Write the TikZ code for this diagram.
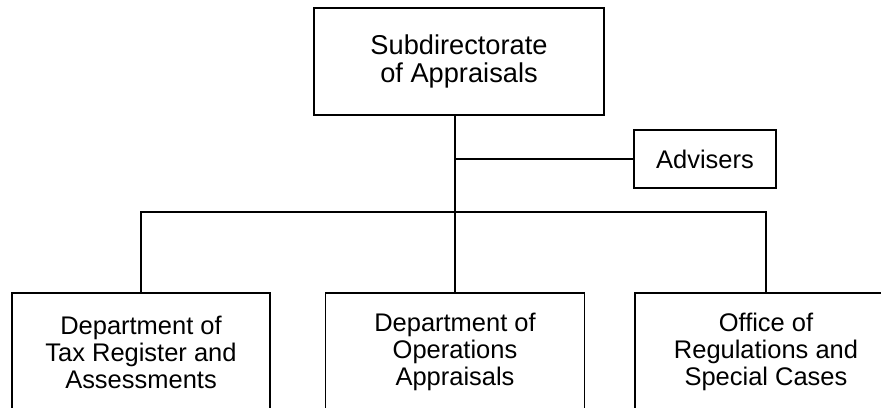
\documentclass[tikz,border=0pt]{standalone}
\usepackage{fontspec}
\setmainfont{Liberation Sans}
\usetikzlibrary{positioning}

\begin{document}
\begin{tikzpicture}[x=0.02cm,y=-0.02cm,
    unit/.style={draw,line width=0.8pt,align=center,inner sep=0pt,
      font=\fontsize{14.5}{15.4}\selectfont},
    link/.style={line width=0.8pt}]
  \useasboundingbox (0,0) rectangle (881,408);
  \clip (0,0) rectangle (881,408);
  % boxes
  \node[unit,minimum width=5.8cm,minimum height=2.14cm,
    font=\fontsize{15.5}{15.8}\selectfont] (subdir) at (459,61.5)
    {Subdirectorate\\of Appraisals};
  \node[unit,minimum width=2.84cm,minimum height=1.16cm] (advisers) at (705,159)
    {Advisers};
  \node[unit,minimum width=5.16cm,minimum height=2.36cm] (taxreg) at (141,352)
    {Department of\\Tax Register and\\Assessments};
  \node[unit,minimum width=5.18cm,minimum height=2.36cm] (operations) at (455,352)
    {Department of\\Operations\\Appraisals};
  \node[unit,minimum width=5.24cm,minimum height=2.36cm] (regulations) at (766,352)
    {Office of\\Regulations and\\Special Cases};
  \coordinate (bus) at (455,212);
  % connectors
  \draw[link] (operations.north |- subdir.south) -- (operations.north);
  \draw[link] (operations.north |- advisers.west) -- (advisers.west);
  \draw[link] (taxreg.north) |- (bus) -| (regulations.north);
\end{tikzpicture}
\end{document}
